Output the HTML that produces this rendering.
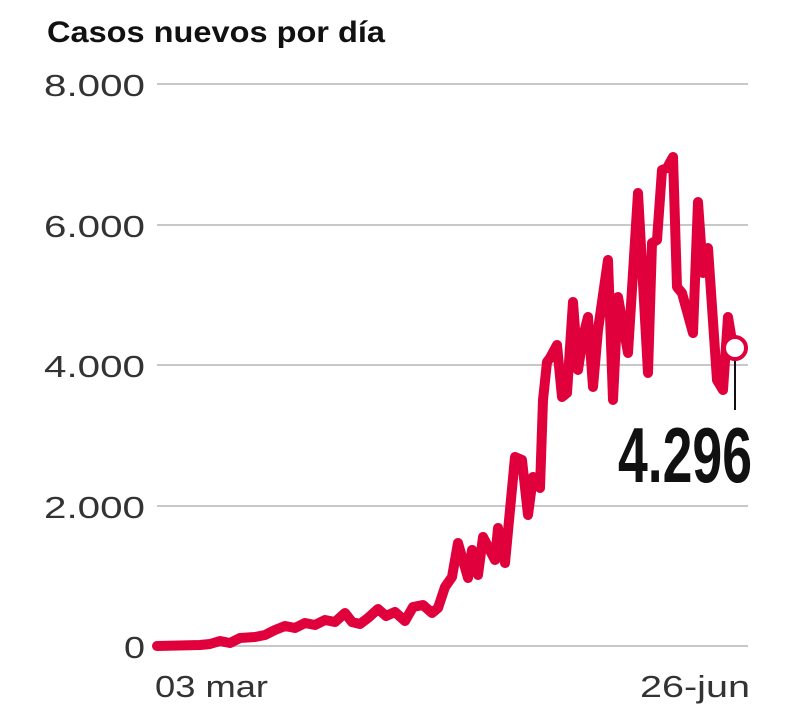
<!DOCTYPE html>
<html><head><meta charset="utf-8"><style>
body{margin:0;background:#fff;width:800px;height:718px;overflow:hidden}
svg{display:block}
</style></head><body>
<svg width="800" height="718" xmlns="http://www.w3.org/2000/svg" font-family="Liberation Sans, sans-serif">
<text x="47" y="42" font-size="30" font-weight="bold" fill="#111" textLength="338" lengthAdjust="spacingAndGlyphs">Casos nuevos por día</text>
<g stroke="#c8c8c8" stroke-width="2">
<line x1="157" y1="84" x2="748" y2="84"/>
<line x1="157" y1="225" x2="748" y2="225"/>
<line x1="157" y1="365" x2="748" y2="365"/>
<line x1="157" y1="506" x2="748" y2="506"/>
<line x1="157" y1="646" x2="748" y2="646"/>
</g>
<g font-size="31" fill="#333">
<text x="44" y="96" textLength="101" lengthAdjust="spacingAndGlyphs">8.000</text>
<text x="44" y="237" textLength="101" lengthAdjust="spacingAndGlyphs">6.000</text>
<text x="44" y="377" textLength="101" lengthAdjust="spacingAndGlyphs">4.000</text>
<text x="44" y="518" textLength="101" lengthAdjust="spacingAndGlyphs">2.000</text>
<text x="124" y="658" textLength="21" lengthAdjust="spacingAndGlyphs">0</text>
<text x="155" y="697" textLength="113" lengthAdjust="spacingAndGlyphs">03 mar</text>
<text x="640" y="697" textLength="110" lengthAdjust="spacingAndGlyphs">26-jun</text>
</g>
<polyline fill="none" stroke="#e0003c" stroke-width="10" stroke-linejoin="round" stroke-linecap="round" points="157,646 200,645 210,644 220,641 230,643 240,638 255,637 265,635 275,630 285,626 295,628 305,623 315,625 325,620 335,622 345,613 352,622 360,624 368,618 378,609 386,616 395,612 405,621 413,607 423,605 432,613 438,608 445,587 452,577 458,543 468,578 472,550 478,575 483,537 495,560 498,528 505,563 515,457 522,460 528,515 533,477 540,488 543,400 547,362 550,358 557,345 562,397 567,393 573,302 578,370 583,337 588,317 593,387 598,330 608,260 613,400 618,297 628,353 638,193 648,373 652,243 657,240 662,170 667,168 673,157 677,287 682,293 693,333 698,202 703,273 708,248 717,380 723,390 728,317 733,347"/>
<line x1="735" y1="360" x2="735" y2="410" stroke="#111" stroke-width="2"/>
<circle cx="735" cy="348" r="11" fill="#fff" stroke="#e0003c" stroke-width="4"/>
<text x="618" y="482" font-size="78" font-weight="bold" fill="#111" textLength="134" lengthAdjust="spacingAndGlyphs">4.296</text>
</svg>
</body></html>
